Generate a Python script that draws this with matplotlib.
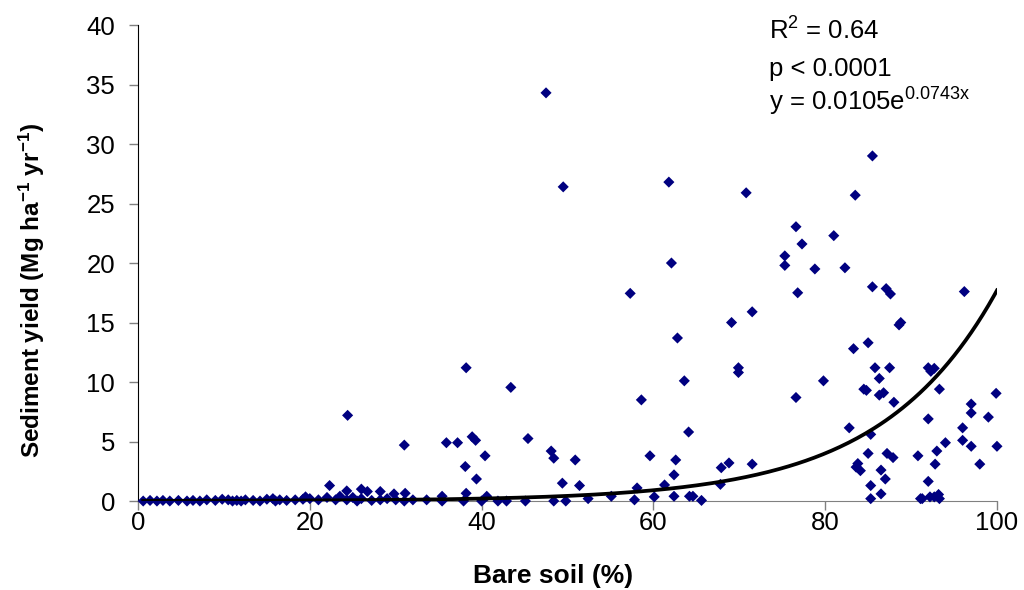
import matplotlib
matplotlib.use("Agg")
import matplotlib.pyplot as plt
import numpy as np

plt.rcParams['font.family'] = ['Liberation Sans', 'DejaVu Sans']
plt.rcParams['mathtext.fontset'] = 'custom'
plt.rcParams['mathtext.rm'] = 'Liberation Sans'
plt.rcParams['mathtext.it'] = 'Liberation Sans:italic'
plt.rcParams['mathtext.bf'] = 'Liberation Sans:bold'

# bare soil (%) and sediment yield (Mg ha-1 yr-1)
bare_soil = [
    0.6, 1.4, 2.2, 2.9, 3.7, 4.7, 5.7, 6.4, 7.2, 8.0, 9.0, 9.8, 10.5, 11.0, 11.5,
    12.0, 12.5, 13.4, 14.2, 15.0, 15.7, 16.0, 16.5, 17.3, 18.3, 19.2, 19.5, 20.0,
    21.0, 22.0, 23.0, 23.5, 24.3, 25.0, 25.5, 26.0, 27.2, 28.2, 29.0, 30.0, 31.0,
    32.0, 33.6, 35.4, 35.4, 37.9, 38.2, 40.0, 40.6, 41.9, 42.9, 45.1, 48.4, 49.8,
    52.4, 55.1, 57.8, 60.1, 62.4, 64.2, 64.6, 65.6,
    22.3, 24.3, 26.0, 26.7, 28.2, 29.8, 31.1, 24.4, 31.0, 35.9, 37.2, 38.9, 39.3,
    38.1, 39.4, 40.4, 38.2, 43.4, 45.4, 48.1, 48.4, 50.9, 49.4, 51.4, 47.5, 49.5,
    61.8, 62.1, 57.3, 62.8, 63.6, 58.6, 64.1, 59.6, 62.6, 62.4, 61.3, 58.1,
    67.9, 68.8, 71.5, 67.8, 70.8, 85.5, 83.5, 76.6, 81.0, 77.3, 75.3, 75.3, 78.8,
    82.3, 76.8, 85.5, 87.1, 87.6, 96.2, 71.5, 69.1, 88.6, 88.8, 83.3, 85.0, 69.9,
    69.9, 85.8, 87.5, 86.3, 79.8, 92.0, 92.7, 92.3, 93.3, 84.5, 84.8, 86.3, 86.8,
    88.0, 76.6, 99.9, 97.0, 97.0, 99.0, 92.0, 82.8, 85.3, 96.0, 96.0, 97.0, 100.0,
    94.0, 93.0, 98.0, 90.8, 92.8, 85.0, 87.2, 87.9, 83.8, 83.6, 84.1, 86.5, 87.0,
    92.0, 85.3, 86.5, 85.3, 91.1, 91.3, 92.2, 92.7, 93.2, 93.3,
]
sediment = [
    0.0, 0.05, 0.0, 0.05, 0.0, 0.05, 0.0, 0.05, 0.0, 0.1, 0.05, 0.15, 0.1, 0.0, 0.05,
    0.0, 0.1, 0.05, 0.0, 0.15, 0.2, 0.0, 0.1, 0.05, 0.1, 0.15, 0.35, 0.2,
    0.1, 0.3, 0.1, 0.4, 0.1, 0.3, 0.0, 0.2, 0.05, 0.1, 0.2, 0.1, 0.0,
    0.1, 0.1, 0.4, 0.0, 0.0, 0.65, 0.0, 0.4, 0.0, 0.0, 0.0, 0.0, 0.0,
    0.2, 0.4, 0.1, 0.35, 0.4, 0.4, 0.4, 0.05,
    1.3, 0.85, 1.0, 0.8, 0.8, 0.6, 0.65, 7.2, 4.7, 4.9, 4.9, 5.4, 5.1,
    2.9, 1.85, 3.8, 11.2, 9.55, 5.25, 4.2, 3.6, 3.45, 1.5, 1.3, 34.3, 26.4,
    26.8, 20.0, 17.45, 13.7, 10.1, 8.5, 5.8, 3.8, 3.45, 2.2, 1.35, 1.1,
    2.8, 3.2, 3.1, 1.4, 25.9, 29.0, 25.7, 23.05, 22.3, 21.6, 20.6, 19.8, 19.5,
    19.6, 17.5, 18.0, 17.85, 17.4, 17.6, 15.9, 15.0, 14.8, 15.0, 12.8, 13.3, 11.2,
    10.8, 11.2, 11.2, 10.3, 10.1, 11.2, 11.15, 10.9, 9.4, 9.4, 9.3, 8.9, 9.1,
    8.3, 8.7, 9.05, 8.15, 7.4, 7.05, 6.9, 6.15, 5.6, 6.15, 5.1, 4.6, 4.6,
    4.9, 4.2, 3.1, 3.8, 3.1, 4.0, 4.0, 3.65, 3.15, 2.85, 2.55, 2.6, 1.85,
    1.65, 1.3, 0.6, 0.2, 0.2, 0.2, 0.35, 0.35, 0.55, 0.2,
]

# exponential trendline y = a * exp(b x)
fit_a = 0.0105
fit_b = 0.0743
stats_lines = [r"R$^\mathrm{2}$ = 0.64", "p < 0.0001", r"y = 0.0105e$^\mathrm{0.0743x}$"]

x_ticks = [0, 20, 40, 60, 80, 100]
y_ticks = [0, 5, 10, 15, 20, 25, 30, 35, 40]

fig = plt.figure(figsize=(10.24, 5.90), dpi=100)
ax = fig.add_axes([0.1348, 0.1508, 0.8388, 0.8068])

ax.scatter(bare_soil, sediment, marker='D', s=32, color='#000080',
           edgecolors='none', zorder=3, clip_on=False)

xs = np.linspace(0.6, 100, 300)
ax.plot(xs, fit_a * np.exp(fit_b * xs), color='black', lw=2.7, zorder=4)

ax.set_xlim(0, 100)
ax.set_ylim(0, 40)
ax.set_xticks(x_ticks)
ax.set_yticks(y_ticks)
ax.tick_params(axis='both', labelsize=18.5, direction='out', length=6.5,
               width=1, color='#808080', labelcolor='black')
ax.tick_params(axis='y', pad=10)
ax.tick_params(axis='x', pad=1)
ax.spines['top'].set_visible(False)
ax.spines['right'].set_visible(False)
ax.spines['bottom'].set_color('#808080')
ax.spines['left'].set_color('black')

ax.set_xlabel("Bare soil (%)", fontsize=19, fontweight='bold', va='top')
ax.xaxis.set_label_coords(0.483, -0.132)
ax.set_ylabel(r"Sediment yield (Mg ha$^\mathbf{-1}$ yr$^\mathbf{-1}$)",
              fontsize=17.5, fontweight='bold')
ax.yaxis.set_label_coords(-0.106, 0.443)

baselines = [0.969, 0.893, 0.820]
for line, yb in zip(stats_lines, baselines):
    ax.text(0.7346, yb, line, transform=ax.transAxes,
            fontsize=18.5, va='baseline', ha='left')

fig.savefig("out.png", dpi=100)
